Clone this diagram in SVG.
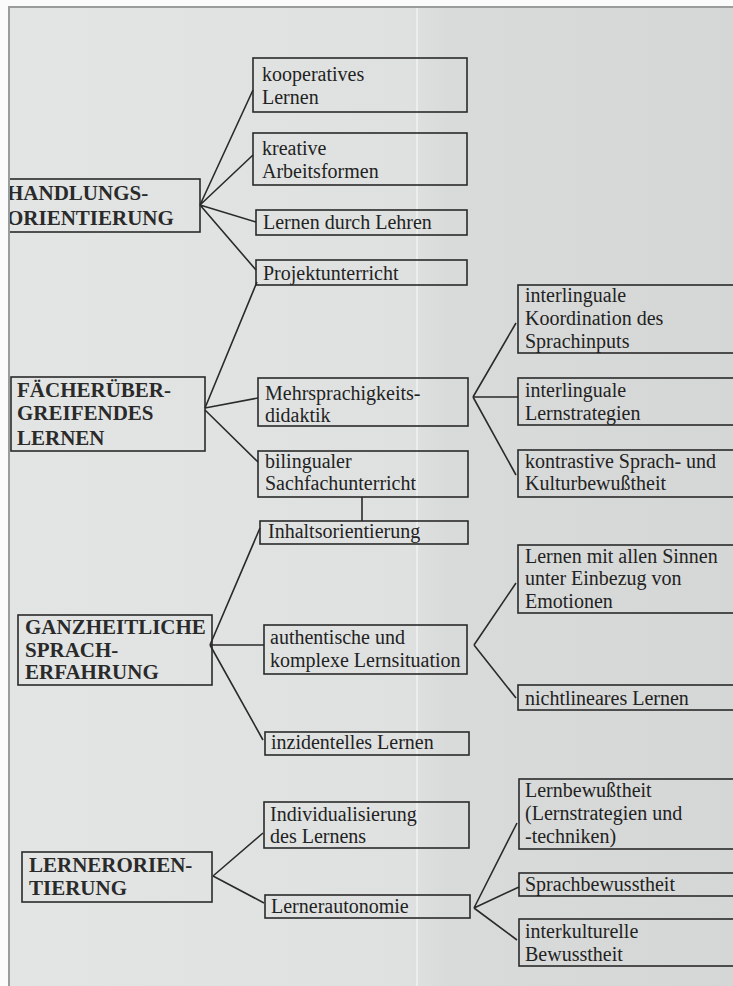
<svg xmlns="http://www.w3.org/2000/svg" width="733" height="986" viewBox="0 0 733 986">
<defs>
<linearGradient id="pg" x1="0" y1="0" x2="1" y2="0">
<stop offset="0" stop-color="#e3e5e5"/>
<stop offset="0.55" stop-color="#dfe1e1"/>
<stop offset="0.6" stop-color="#d9dbda"/>
<stop offset="1" stop-color="#d5d7d6"/>
</linearGradient>
<style>
.b{fill:none;stroke:#2a2a2a;stroke-width:1.6}
.t{font-family:"Liberation Serif","Times New Roman",serif;font-size:20px;fill:#222}
.h{font-family:"Liberation Serif","Times New Roman",serif;font-size:21px;font-weight:bold;fill:#2a2a2a}
.c{fill:none;stroke:#2a2a2a;stroke-width:1.6}
</style>
</defs>
<rect x="0" y="0" width="733" height="986" fill="#fbfbfb"/>
<rect x="9" y="7" width="730" height="985" fill="url(#pg)" stroke="#9a9c9c" stroke-width="2"/>
<line x1="417" y1="8" x2="417" y2="986" stroke="#f2f4f4" stroke-width="2" opacity="0.7"/>

<g id="connectors">
<path class="c" d="M200 205 L253 90 M200 205 L253 155 M200 205 L256 222 M200 205 L256 270"/>
<path class="c" d="M205 408 L257 282 M205 408 L258 398 M205 410 L258 462"/>
<path class="c" d="M362 497 L362 521"/>
<path class="c" d="M473 397 L516 323 M473 397 L518 397 M473 397 L516 475"/>
<path class="c" d="M210 645 L260 528 M210 645 L264 645 M210 645 L263 740"/>
<path class="c" d="M474 645 L516 583 M474 645 L516 698"/>
<path class="c" d="M213 876 L263 833 M213 876 L264 903"/>
<path class="c" d="M474 908 L517 823 M474 908 L519 887 M474 908 L517 940"/>
</g>

<g id="handlungsorientierung">
<rect class="b" x="6" y="179" width="194" height="53"/>
<text class="h" x="7" y="200">HANDLUNGS-</text>
<text class="h" x="7" y="225">ORIENTIERUNG</text>
</g>
<g id="kooperatives">
<rect class="b" x="253" y="58" width="214" height="54"/>
<text class="t" x="262" y="81">kooperatives</text>
<text class="t" x="262" y="104">Lernen</text>
</g>
<g id="kreative">
<rect class="b" x="253" y="133" width="214" height="52"/>
<text class="t" x="262" y="155">kreative</text>
<text class="t" x="262" y="178">Arbeitsformen</text>
</g>
<g id="lernen-durch-lehren">
<rect class="b" x="256" y="210" width="211" height="25"/>
<text class="t" x="263" y="229">Lernen durch Lehren</text>
</g>
<g id="projektunterricht">
<rect class="b" x="256" y="260" width="211" height="25"/>
<text class="t" x="263" y="280">Projektunterricht</text>
</g>

<g id="faecheruebergreifend">
<rect class="b" x="11" y="377" width="194" height="74"/>
<text class="h" x="17" y="397">FÄCHERÜBER-</text>
<text class="h" x="17" y="420">GREIFENDES</text>
<text class="h" x="17" y="445">LERNEN</text>
</g>
<g id="mehrsprachigkeit">
<rect class="b" x="258" y="378" width="210" height="48"/>
<text class="t" x="265" y="400">Mehrsprachigkeits-</text>
<text class="t" x="265" y="422">didaktik</text>
</g>
<g id="bilingual">
<rect class="b" x="258" y="451" width="210" height="46"/>
<text class="t" x="265" y="468">bilingualer</text>
<text class="t" x="265" y="490">Sachfachunterricht</text>
</g>
<g id="koordination">
<rect class="b" x="518" y="285" width="225" height="68"/>
<text class="t" x="525" y="302">interlinguale</text>
<text class="t" x="525" y="325">Koordination des</text>
<text class="t" x="525" y="348">Sprachinputs</text>
</g>
<g id="lernstrategien">
<rect class="b" x="518" y="378" width="225" height="47"/>
<text class="t" x="525" y="397">interlinguale</text>
<text class="t" x="525" y="420">Lernstrategien</text>
</g>
<g id="kontrastiv">
<rect class="b" x="518" y="450" width="225" height="47"/>
<text class="t" x="525" y="468">kontrastive Sprach- und</text>
<text class="t" x="525" y="490">Kulturbewußtheit</text>
</g>

<g id="inhaltsorientierung">
<rect class="b" x="260" y="521" width="208" height="23"/>
<text class="t" x="268" y="538">Inhaltsorientierung</text>
</g>
<g id="ganzheitlich">
<rect class="b" x="18" y="615" width="194" height="70"/>
<text class="h" x="25" y="634">GANZHEITLICHE</text>
<text class="h" x="25" y="657">SPRACH-</text>
<text class="h" x="25" y="679">ERFAHRUNG</text>
</g>
<g id="authentisch">
<rect class="b" x="264" y="625" width="203" height="49"/>
<text class="t" x="270" y="644">authentische und</text>
<text class="t" x="270" y="667">komplexe Lernsituation</text>
</g>
<g id="inzidentell">
<rect class="b" x="265" y="732" width="204" height="23"/>
<text class="t" x="271" y="749">inzidentelles Lernen</text>
</g>
<g id="sinne">
<rect class="b" x="518" y="545" width="225" height="68"/>
<text class="t" x="525" y="563">Lernen mit allen Sinnen</text>
<text class="t" x="525" y="585">unter Einbezug von</text>
<text class="t" x="525" y="608">Emotionen</text>
</g>
<g id="nichtlinear">
<rect class="b" x="518" y="685" width="225" height="25"/>
<text class="t" x="525" y="705">nichtlineares Lernen</text>
</g>

<g id="lernerorientierung">
<rect class="b" x="22" y="852" width="190" height="50"/>
<text class="h" x="29" y="872">LERNERORIEN-</text>
<text class="h" x="29" y="895">TIERUNG</text>
</g>
<g id="individualisierung">
<rect class="b" x="264" y="802" width="205" height="46"/>
<text class="t" x="270" y="821">Individualisierung</text>
<text class="t" x="270" y="843">des Lernens</text>
</g>
<g id="lernerautonomie">
<rect class="b" x="265" y="895" width="205" height="23"/>
<text class="t" x="271" y="913">Lernerautonomie</text>
</g>
<g id="lernbewusstheit">
<rect class="b" x="519" y="779" width="225" height="70"/>
<text class="t" x="525" y="797">Lernbewußtheit</text>
<text class="t" x="525" y="820">(Lernstrategien und</text>
<text class="t" x="525" y="843">-techniken)</text>
</g>
<g id="sprachbewusstheit">
<rect class="b" x="519" y="873" width="225" height="23"/>
<text class="t" x="525" y="891">Sprachbewusstheit</text>
</g>
<g id="interkulturell">
<rect class="b" x="519" y="919" width="225" height="47"/>
<text class="t" x="525" y="938">interkulturelle</text>
<text class="t" x="525" y="961">Bewusstheit</text>
</g>

<rect x="0" y="0" width="8" height="986" fill="#fbfbfb"/>
<line x1="9" y1="7" x2="9" y2="986" stroke="#9a9c9c" stroke-width="2"/>
</svg>
